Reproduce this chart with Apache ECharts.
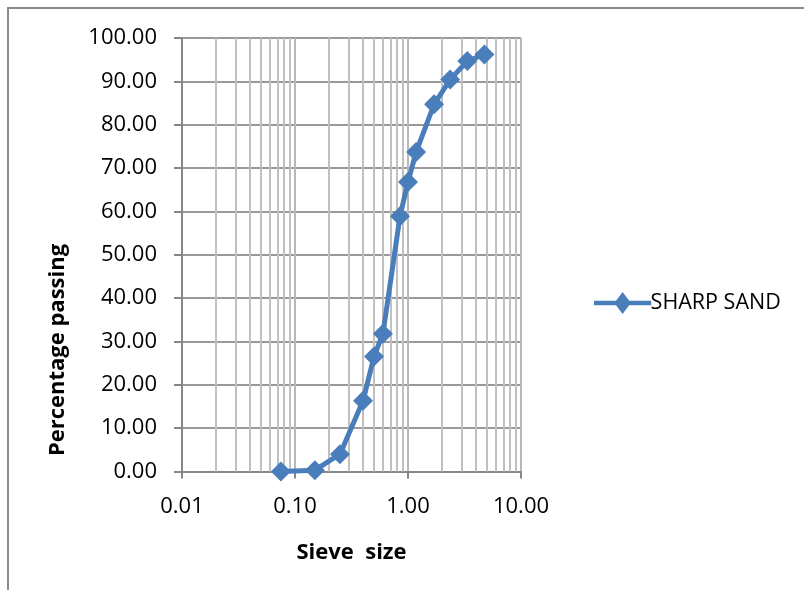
<!DOCTYPE html>
<html>
<head>
<meta charset="utf-8">
<script src="https://cdn.jsdelivr.net/npm/echarts@6/dist/echarts.min.js"></script>
<style>
html,body{margin:0;padding:0;background:#fff;}
#c{width:804px;height:590px;}
</style>
</head>
<body>
<div id="c"></div>
<script>
const sieveSize = [0.075, 0.15, 0.25, 0.4, 0.5, 0.6, 0.85, 1.0, 1.18, 1.7, 2.36, 3.35, 4.75];
const percentPassing = [0.0, 0.3, 4.0, 16.3, 26.5, 31.8, 58.9, 66.8, 73.7, 84.7, 90.4, 94.7, 96.2];
const seriesName = 'SHARP SAND';
const xTitle = 'Sieve  size';
const yTitle = 'Percentage passing';
const minorGridX = [0.02,0.03,0.04,0.05,0.06,0.07,0.08,0.09,0.2,0.3,0.4,0.5,0.6,0.7,0.8,0.9,2,3,4,5,6,7,8,9];

const font = '"Open Sans", "Noto Sans", sans-serif';
const blue = '#4a7ebb';
const chart = echarts.init(document.getElementById('c'), null, {renderer:'canvas'});
const pts = sieveSize.map((x,i)=>[x, percentPassing[i]]);
chart.setOption({
  animation:false,
  backgroundColor:'#fff',
  grid:{left:182, right:283, top:38, bottom:118.5, containLabel:false},
  legend:{
    data:[{name:seriesName, icon:'path://M0,4 L10,4 L13,0 L16,4 L26,4 L26,6 L16,6 L13,10 L10,6 L0,6 Z'}],
    orient:'vertical', left:589, top:287, itemWidth:58, itemHeight:22, itemGap:0,
    textStyle:{fontFamily:font, fontSize:21.5, color:'#000', padding:[0,0,0,-6]}
  },
  xAxis:{
    type:'log', logBase:10, min:0.01, max:10,
    name:xTitle, nameLocation:'middle', nameGap:70,
    nameTextStyle:{fontFamily:font, fontSize:22, fontWeight:'bold', color:'#000'},
    axisLine:{show:true, lineStyle:{color:'#868686', width:2}},
    axisTick:{show:true, inside:false, length:7, lineStyle:{color:'#868686', width:2}},
    axisLabel:{fontFamily:font, fontSize:22, color:'#000', margin:24,
      formatter:v=>v.toFixed(2)},
    splitLine:{show:true, lineStyle:{color:'#b8b8b8', width:2}},
    minorTick:{show:false}, minorSplitLine:{show:false}
  },
  yAxis:{
    type:'value', min:0, max:100, interval:10,
    axisLine:{show:true, lineStyle:{color:'#868686', width:2}},
    axisTick:{show:true, inside:false, length:8, lineStyle:{color:'#868686', width:2}},
    axisLabel:{fontFamily:font, fontSize:22, color:'#000', margin:25,
      formatter:v=>v.toFixed(2)},
    splitLine:{show:true, lineStyle:{color:'#9a9a9a', width:2}}
  },
  series:[
    {
      name:'grid-minor', type:'line', data:pts, z:1, showSymbol:false, silent:true,
      lineStyle:{opacity:0}, legendHoverLink:false,
      markLine:{silent:true, symbol:'none', animation:false,
        label:{show:false},
        lineStyle:{color:'#c0c0c0', width:2, type:'solid'},
        emphasis:{disabled:true},
        data:minorGridX.map(v=>({xAxis:v}))}
    },
    {
      name:seriesName, type:'line', data:pts, z:5,
      symbol:'diamond', symbolSize:20,
      lineStyle:{color:blue, width:5},
      itemStyle:{color:blue}
    }
  ],
  graphic:[
    {type:'rect', shape:{x:8, y:8, width:900, height:700}, style:{fill:'none', stroke:'#8a8a8a', lineWidth:2}, z:0},
    {type:'text', x:58, y:350, rotation:Math.PI/2,
      style:{text:yTitle, fontFamily:font, fontSize:22, fontWeight:'bold', fill:'#000', align:'center', verticalAlign:'middle'}}
  ]
});
</script>
</body>
</html>
